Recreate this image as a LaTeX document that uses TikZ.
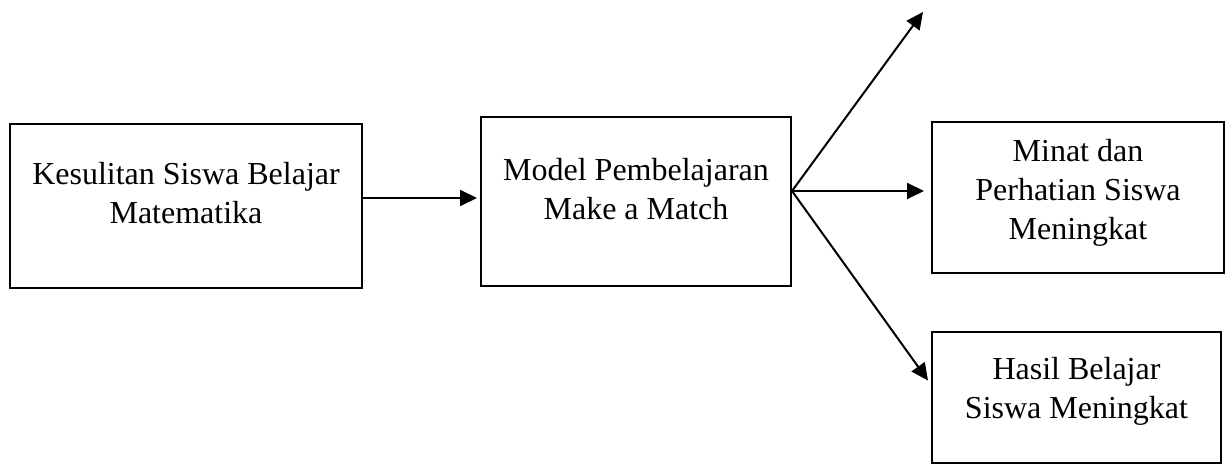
\documentclass[tikz,border=0pt]{standalone}
\usepackage{fontspec}
\setmainfont{Liberation Serif}
\usetikzlibrary{arrows.meta,calc}

\tikzset{
  box/.style={draw=black, line width=2.6pt, rectangle, inner sep=0pt, outer sep=0pt},
  txt/.style={align=center, inner sep=0pt, font=\fontsize{32}{39}\selectfont, anchor=base},
  arr/.style={draw=black, line width=2pt, -{Triangle[length=17pt,width=16pt]}}
}

\begin{document}
\begin{tikzpicture}[x=1pt,y=-1pt]
  \useasboundingbox (0,0) rectangle (1229,465);

  % boxes
  \node[box, minimum width=352pt, minimum height=164pt] (b1) at (186,206) {};
  \node[box, minimum width=310pt, minimum height=169pt] (b2) at (636,201.5) {};
  \node[box, minimum width=292pt, minimum height=151pt] (b3) at (1078,197.5) {};
  \node[box, minimum width=289pt, minimum height=131pt] (b4) at (1076.5,397.5) {};

  % box texts (anchored at the baseline of the last line)
  \node[txt] (t1) at (186,224) {Kesulitan Siswa Belajar\\Matematika};
  \node[txt] (t2) at (636,220) {Model Pembelajaran\\Make a Match};
  \node[txt] (t3) at (1078,240) {Minat dan\\Perhatian Siswa\\Meningkat};
  \node[txt] (t4) at (1076.5,418) {Hasil Belajar\\Siswa Meningkat};

  % connectors
  \coordinate (fan) at ([xshift=1pt,yshift=10.5pt]b2.east);
  \coordinate (topend) at (923,12);

  \draw[arr, shorten >=4pt] ([yshift=8pt]b1.east) -- ([yshift=8pt]b1.east -| b2.west);
  \draw[arr] (fan) -- (topend);
  \draw[arr, shorten >=8pt] (fan) -- (fan -| b3.west);
  \draw[arr] (fan) -- ([xshift=-4pt,yshift=17pt]b4.west);
\end{tikzpicture}
\end{document}
